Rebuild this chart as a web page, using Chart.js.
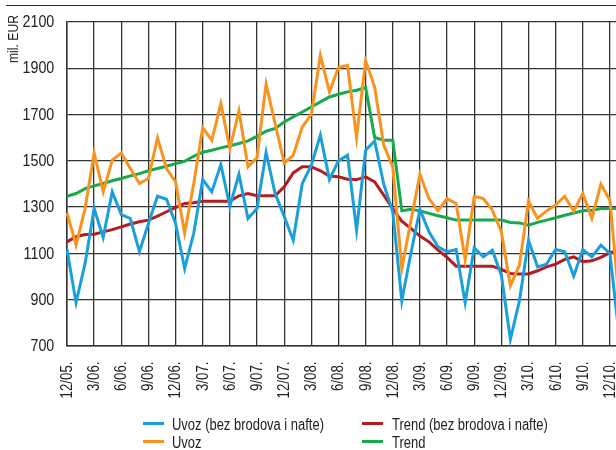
<!DOCTYPE html>
<html>
<head>
<meta charset="utf-8">
<script src="https://cdn.jsdelivr.net/npm/chart.js@4.4.0/dist/chart.umd.min.js"></script>
<style>
  html, body { margin: 0; padding: 0; background: #fff; }
  body { width: 616px; height: 450px; overflow: hidden; position: relative;
         font-family: 'Liberation Sans', Arial, sans-serif; color: #222; }
  #rule { position: absolute; left: 6px; top: 5px; width: 620px; height: 0; border-top: 1.5px solid #2a2a2a; }
  #wrap { position: absolute; left: 0; top: 0; }
  #ytitle { position: absolute; left: 5px; top: 63px; transform-origin: 0 0;
            transform: rotate(-90deg) scaleX(0.81);
            font-size: 15px; white-space: nowrap; line-height: 15px; }
  .leg { position: absolute; height: 18px; white-space: nowrap; }
  .leg i { position: absolute; left: 0; top: 5.5px; width: 21px; height: 3px; }
  .leg span { position: absolute; top: 0; font-size: 16px; line-height: 18px;
              transform-origin: 0 0; transform: scaleX(0.81); }
</style>
</head>
<body>
<div id="rule"></div>
<div id="wrap"><canvas id="c" width="622" height="420"></canvas></div>
<div id="ytitle">mil. EUR</div>
<div id="legend"></div>
<script>
// Monthly imports, December 2005 – January 2011 (mil. EUR)
const months = [
  '12/05.', '1/06.', '2/06.', '3/06.', '4/06.', '5/06.', '6/06.', '7/06.', '8/06.', '9/06.', '10/06.', '11/06.',
  '12/06.', '1/07.', '2/07.', '3/07.', '4/07.', '5/07.', '6/07.', '7/07.', '8/07.', '9/07.', '10/07.', '11/07.',
  '12/07.', '1/08.', '2/08.', '3/08.', '4/08.', '5/08.', '6/08.', '7/08.', '8/08.', '9/08.', '10/08.', '11/08.',
  '12/08.', '1/09.', '2/09.', '3/09.', '4/09.', '5/09.', '6/09.', '7/09.', '8/09.', '9/09.', '10/09.', '11/09.',
  '12/09.', '1/10.', '2/10.', '3/10.', '4/10.', '5/10.', '6/10.', '7/10.', '8/10.', '9/10.', '10/10.', '11/10.',
  '12/10.', '1/11.'
];

// Imports excluding ships and oil
const uvozBez = [
  1117, 887, 1057, 1294, 1169, 1366, 1268, 1251, 1107, 1230, 1347, 1334,
  1229, 1035, 1186, 1419, 1366, 1484, 1304, 1442, 1251, 1294, 1536, 1359,
  1260, 1157, 1402, 1481, 1611, 1419, 1500, 1524, 1201, 1546, 1586, 1400,
  1280, 896, 1100, 1290, 1193, 1129, 1107, 1117, 887, 1124, 1085, 1114,
  1006, 729, 896, 1157, 1042, 1054, 1117, 1107, 1002, 1117, 1085, 1136,
  1100, 750
];

// Total imports
const uvoz = [
  1275, 1136, 1294, 1534, 1366, 1503, 1534, 1467, 1402, 1424, 1599, 1467,
  1409, 1189, 1400, 1644, 1589, 1747, 1553, 1716, 1474, 1514, 1831, 1661,
  1491, 1524, 1647, 1701, 1956, 1798, 1903, 1913, 1601, 1932, 1819, 1568,
  1474, 1035, 1240, 1442, 1337, 1284, 1337, 1316, 1074, 1347, 1337, 1287,
  1193, 960, 1050, 1326, 1251, 1284, 1309, 1347, 1283, 1359, 1251, 1399,
  1330, 900
];

// Trend of imports excluding ships and oil
const trendBez = [
  1150, 1172, 1182, 1183, 1193, 1203, 1215, 1227, 1237, 1244, 1261, 1280,
  1298, 1316, 1319, 1326, 1326, 1326, 1326, 1349, 1359, 1349, 1349, 1349,
  1388, 1448, 1474, 1474, 1457, 1434, 1431, 1421, 1419, 1431, 1409, 1352,
  1294, 1239, 1208, 1175, 1150, 1114, 1083, 1045, 1045, 1045, 1045, 1045,
  1031, 1013, 1011, 1011, 1025, 1042, 1054, 1074, 1085, 1064, 1068, 1083,
  1103, 1114
];

// Trend of total imports
const trend = [
  1347, 1359, 1380, 1392, 1402, 1414, 1424, 1435, 1445, 1457, 1467, 1477,
  1488, 1498, 1520, 1537, 1546, 1556, 1565, 1575, 1586, 1606, 1628, 1640,
  1668, 1690, 1711, 1733, 1755, 1776, 1788, 1798, 1805, 1817, 1601, 1589,
  1589, 1284, 1291, 1284, 1273, 1263, 1254, 1244, 1244, 1244, 1244, 1244,
  1244, 1234, 1232, 1222, 1234, 1244, 1254, 1265, 1275, 1284, 1287, 1294,
  1294, 1294
];

const yTicks = [700, 900, 1100, 1300, 1500, 1700, 1900, 2100];

const series = [
  { label: 'Uvoz (bez brodova i nafte)', data: uvozBez, color: '#1a9fd9', order: 1, col: 0, row: 0 },
  { label: 'Uvoz', data: uvoz, color: '#f7931e', order: 2, col: 0, row: 1 },
  { label: 'Trend (bez brodova i nafte)', data: trendBez, color: '#b51c22', order: 3, col: 1, row: 0 },
  { label: 'Trend', data: trend, color: '#18a94b', order: 4, col: 1, row: 1 }
];

const FONT = "'Liberation Sans', Arial, sans-serif";
const gridColor = '#333';
const textColor = '#222';

// Tick labels set in a condensed face (horizontally compressed), placed by the scales
const condensedTicks = {
  id: 'condensedTicks',
  afterDraw(chart) {
    const ctx = chart.ctx;
    const xs = chart.scales.x;
    const ys = chart.scales.y;
    ctx.save();
    ctx.fillStyle = textColor;

    ctx.font = '17px ' + FONT;
    ctx.textAlign = 'right';
    ctx.textBaseline = 'middle';
    yTicks.forEach(v => {
      const y = ys.getPixelForValue(v);
      ctx.save();
      ctx.translate(ys.right - 12.7, y + 0.5);
      ctx.scale(0.84, 1);
      ctx.fillText(String(v), 0, 0);
      ctx.restore();
    });

    ctx.font = '16px ' + FONT;
    months.forEach((m, i) => {
      if (i % 3 !== 0) return;
      const x = xs.getPixelForValue(i);
      if (x > chart.width) return;
      ctx.save();
      ctx.translate(x + 0.5, xs.top + 15.5);
      ctx.rotate(-Math.PI / 2);
      ctx.scale(0.83, 1);
      ctx.fillText(m, 0, 0);
      ctx.restore();
    });
    ctx.restore();
  }
};

new Chart(document.getElementById('c'), {
  type: 'line',
  data: {
    labels: months,
    datasets: series.map(s => ({
      label: s.label,
      data: s.data,
      borderColor: s.color,
      backgroundColor: s.color,
      borderWidth: 3,
      pointRadius: 0,
      tension: 0,
      order: s.order,
      borderJoinStyle: 'miter'
    }))
  },
  plugins: [condensedTicks],
  options: {
    responsive: false,
    animation: false,
    layout: { padding: { top: 22, right: 3, bottom: 0, left: 0 } },
    plugins: { legend: { display: false }, tooltip: { enabled: false } },
    scales: {
      x: {
        type: 'category',
        offset: false,
        border: { display: true, color: gridColor, width: 1.5 },
        grid: {
          drawTicks: false,
          lineWidth: 1.3,
          color: ctx => (ctx.index % 3 === 0 ? gridColor : 'rgba(0,0,0,0)')
        },
        ticks: { display: false, autoSkip: false },
        afterFit: s => { s.height = 74; s.paddingLeft = 0; s.paddingRight = 0; }
      },
      y: {
        min: 700,
        max: 2100,
        border: { display: true, color: gridColor, width: 1.5 },
        grid: { drawTicks: false, lineWidth: 1.3, color: gridColor },
        afterBuildTicks: s => { s.ticks = yTicks.map(v => ({ value: v })); },
        ticks: { display: false },
        afterFit: s => { s.width = 67; }
      }
    }
  }
});

// Legend in two columns
const legend = document.getElementById('legend');
const colX = [143, 362];
const rowY = [416, 434];
series.forEach(s => {
  const d = document.createElement('div');
  d.className = 'leg';
  d.style.left = colX[s.col] + 'px';
  d.style.top = rowY[s.row] + 'px';
  const sw = document.createElement('i');
  sw.style.background = s.color;
  const t = document.createElement('span');
  t.style.left = (s.col === 0 ? 29.3 : 29.7) + 'px';
  t.textContent = s.label;
  d.appendChild(sw);
  d.appendChild(t);
  legend.appendChild(d);
});
</script>
</body>
</html>
